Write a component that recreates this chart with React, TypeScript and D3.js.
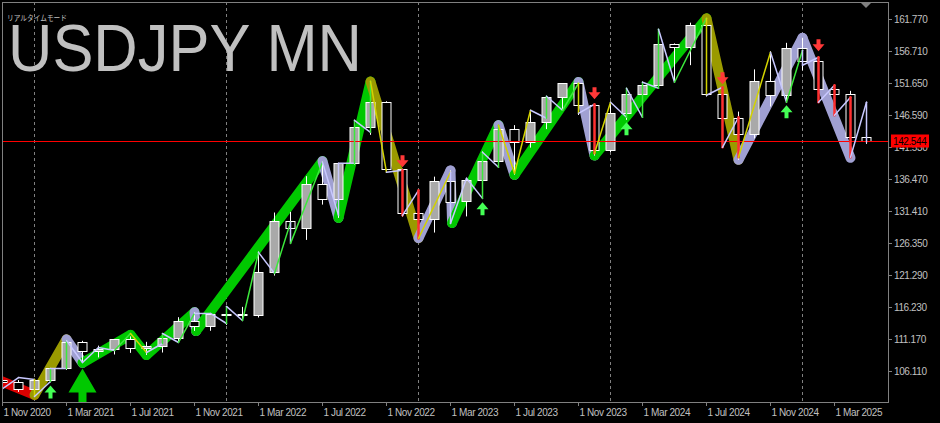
import React from 'react';
import * as d3 from 'd3';

// ---------- DATA ----------
const months = [
  'Nov 2020', 'Dec 2020', 'Jan 2021', 'Feb 2021', 'Mar 2021', 'Apr 2021', 'May 2021', 'Jun 2021', 'Jul 2021', 'Aug 2021', 'Sep 2021', 'Oct 2021',
  'Nov 2021', 'Dec 2021', 'Jan 2022', 'Feb 2022', 'Mar 2022', 'Apr 2022', 'May 2022', 'Jun 2022', 'Jul 2022', 'Aug 2022', 'Sep 2022', 'Oct 2022',
  'Nov 2022', 'Dec 2022', 'Jan 2023', 'Feb 2023', 'Mar 2023', 'Apr 2023', 'May 2023', 'Jun 2023', 'Jul 2023', 'Aug 2023', 'Sep 2023', 'Oct 2023',
  'Nov 2023', 'Dec 2023', 'Jan 2024', 'Feb 2024', 'Mar 2024', 'Apr 2024', 'May 2024', 'Jun 2024', 'Jul 2024', 'Aug 2024', 'Sep 2024', 'Oct 2024',
  'Nov 2024', 'Dec 2024', 'Jan 2025', 'Feb 2025', 'Mar 2025', 'Apr 2025', 'May 2025',
];
const opens = [
  104.66, 104.30, 103.22, 104.68, 106.58, 110.72, 109.30, 109.58, 111.10, 109.72, 110.02, 111.30,
  113.96, 113.16, 115.08, 115.12, 115.00, 121.70, 129.82, 128.68, 135.72, 133.26, 138.94, 144.74,
  148.71, 138.06, 131.10, 130.09, 136.20, 133.00, 136.30, 139.33, 144.31, 142.28, 145.54, 149.36,
  151.68, 148.20, 141.03, 146.91, 149.98, 151.35, 157.80, 157.31, 160.88, 149.98, 146.16, 143.63,
  152.03, 149.77, 157.20, 155.18, 150.63, 149.94, 143.07,
];
const highs = [
  105.68, 104.75, 104.94, 106.69, 110.97, 110.96, 110.20, 111.11, 111.66, 110.80, 112.08, 114.70,
  115.52, 115.20, 116.35, 116.33, 125.10, 131.25, 131.35, 137.00, 139.39, 139.08, 145.90, 151.95,
  148.84, 138.18, 134.78, 136.92, 137.91, 136.56, 140.93, 145.07, 145.07, 147.38, 149.71, 151.72,
  151.91, 148.32, 148.81, 150.88, 151.97, 160.21, 157.99, 161.27, 161.95, 150.89, 147.21, 153.88,
  156.75, 158.08, 158.87, 155.89, 151.30, 150.49, 143.50,
];
const lows = [
  103.18, 102.88, 102.59, 104.41, 106.35, 107.48, 108.34, 108.80, 109.06, 108.72, 109.11, 110.82,
  112.53, 112.55, 113.47, 114.15, 114.65, 121.28, 126.36, 126.92, 132.50, 130.40, 138.85, 143.53,
  137.50, 130.58, 127.23, 128.08, 129.64, 130.63, 133.50, 138.43, 137.24, 141.51, 144.44, 147.31,
  146.67, 140.25, 140.81, 145.90, 146.48, 150.81, 151.86, 154.55, 149.58, 141.68, 139.58, 142.97,
  148.01, 148.65, 153.72, 148.57, 146.54, 139.89, 142.10,
];
const closes = [
  104.30, 103.25, 104.68, 106.58, 110.72, 109.30, 109.58, 111.10, 109.72, 110.02, 111.30, 113.96,
  113.16, 115.08, 115.12, 115.00, 121.70, 129.82, 128.68, 135.72, 133.26, 138.94, 144.74, 148.71,
  138.06, 131.10, 130.09, 136.20, 132.83, 136.30, 139.33, 144.31, 142.28, 145.54, 149.36, 151.68,
  148.20, 141.03, 146.91, 149.98, 151.35, 157.80, 157.31, 160.88, 149.98, 146.16, 143.63, 152.03,
  149.77, 157.20, 155.18, 150.63, 149.94, 143.07, 142.544,
];

const xTickIdx = [0, 4, 8, 12, 16, 20, 24, 28, 32, 36, 40, 44, 48, 52];
const xTickLabels = [
  '1 Nov 2020', '1 Mar 2021', '1 Jul 2021', '1 Nov 2021', '1 Mar 2022', '1 Jul 2022', '1 Nov 2022',
  '1 Mar 2023', '1 Jul 2023', '1 Nov 2023', '1 Mar 2024', '1 Jul 2024', '1 Nov 2024', '1 Mar 2025',
];
const yearGridIdx = [2, 14, 26, 38, 50];
const yTicks = [161.77, 156.71, 151.65, 146.59, 141.53, 136.47, 131.41, 126.35, 121.29, 116.23, 111.17, 106.11];
const currentPrice = 142.544;

// main zigzag ribbon: bar index, price, segment colour key
const ribbonIdx = [-0.2, 2, 4, 5, 8, 9, 12, 12.1, 20, 21, 23, 26, 28, 28.1, 31, 32, 36, 37, 44, 46, 50, 53];
const ribbonPrice = [104.7, 102.4, 111.2, 107.48, 111.9, 108.7, 115.5, 112.5, 139.39, 130.4, 151.95, 127.2, 137.9, 129.6, 145.07, 137.2, 151.9, 140.25, 161.95, 139.58, 158.87, 139.9];
const ribbonColor = ['', 'R', 'O', 'L', 'G', 'G', 'G', 'L', 'G', 'L', 'G', 'O', 'L', 'L', 'G', 'L', 'G', 'L', 'G', 'O', 'L', 'L'];

// thin zigzag line: [bar index, price, colour of segment arriving here]
const thinPath: [number, number, string][] = [
  [-0.16, 103.10, ''], [1, 105.15, 'L'], [2, 104.84, 'L'], [2, 102.15, 'Y'], [3, 104.52, 'L'],
  [3, 106.58, 'G'], [4, 106.58, 'L'], [4, 111.01, 'G'], [5, 107.53, 'L'], [6, 109.91, 'L'],
  [7, 109.43, 'L'], [8, 112.12, 'G'], [9, 109.11, 'Y'], [10, 110.54, 'L'], [10, 112.12, 'G'],
  [11, 110.70, 'L'], [12, 115.29, 'G'], [13, 115.29, 'L'], [14, 113.70, 'L'], [14, 116.40, 'G'],
  [15, 114.18, 'L'], [16, 124.94, 'G'], [17, 121.62, 'L'], [18, 129.69, 'G'], [18, 126.37, 'L'],
  [20, 139.19, 'G'], [21, 130.80, 'L'], [21, 139.03, 'L'], [22, 139.03, 'L'], [22, 145.83, 'G'],
  [23, 143.93, 'L'], [23, 152.0, 'G'], [24, 137.61, 'Y'], [25, 137.92, 'L'], [25, 130.80, 'R'],
  [26, 134.76, 'L'], [26, 127.16, 'R'], [28, 137.61, 'Y'], [28, 129.53, 'L'], [29, 136.66, 'L'],
  [30, 133.49, 'L'], [30, 140.77, 'G'], [31, 138.40, 'L'], [31, 145.04, 'G'], [32, 137.45, 'Y'],
  [33, 147.42, 'Y'], [34, 146.15, 'L'], [34, 149.63, 'G'], [35, 147.42, 'L'], [36, 151.69, 'G'],
  [36, 146.94, 'Y'], [37, 148.37, 'L'], [37, 140.61, 'R'], [38, 148.68, 'Y'], [39, 146.31, 'L'],
  [39, 150.90, 'G'], [40, 146.31, 'L'], [40, 151.85, 'G'], [41, 150.90, 'L'], [41, 160.24, 'G'],
  [42, 151.85, 'L'], [44, 161.98, 'G'], [44, 149.79, 'Y'], [45, 151.06, 'L'], [45, 141.56, 'R'],
  [46, 146.31, 'L'], [46, 139.98, 'R'], [48, 156.59, 'Y'], [49, 148.68, 'L'], [50, 156.91, 'G'],
  [50, 154.54, 'L'], [51, 155.80, 'L'], [51, 148.68, 'R'], [52, 151.37, 'L'], [52, 146.63, 'R'],
  [53, 149.47, 'L'], [53, 139.98, 'R'], [54, 148.68, 'L'], [54, 142.35, 'L'],
];

// signal arrows
const upArrowIdx = [3, 30, 39, 49];
const upArrowPrice = [101.84, 130.80, 143.46, 146.15]; // bottom of arrow
const downArrowIdx = [25, 37, 45, 51];
const downArrowPrice = [140.3, 151.06, 153.43, 158.65]; // top of arrow
const bigArrowIdx = 5;
const bigArrowPrice = 106.58; // tip

// ---------- STYLE ----------
const ribbonColors: Record<string, string> = { R: '#dc0000', O: '#9a9a00', L: '#a0a0d2', G: '#00c800' };
const thinColors: Record<string, string> = { L: '#c8c8ff', G: '#3ce83c', Y: '#d2d200', R: '#ff3030' };
const AXIS = '#808080';
const TEXT = '#c0c0c0';
const FONT = "'Liberation Sans', Arial, sans-serif";

export default function App() {
  const x = d3.scaleLinear().domain([0, 54]).range([2.5, 866.5]);
  const y = d3.scaleLinear().domain([106.11, 161.77]).range([371.5, 19.5]);
  const snap = (v: number) => Math.round(v - 0.5) + 0.5;

  const ribbonSegs = ribbonIdx.slice(1).map((_, k) => ({
    x1: x(ribbonIdx[k]), y1: y(ribbonPrice[k]), x2: x(ribbonIdx[k + 1]), y2: y(ribbonPrice[k + 1]),
    c: ribbonColors[ribbonColor[k + 1]],
  }));

  const thinSegs = thinPath.slice(1).map((p, k) => ({
    x1: x(thinPath[k][0]), y1: y(thinPath[k][1]), x2: x(p[0]), y2: y(p[1]), key: p[2],
  }));

  const upArrow = (cx: number, bottom: number) => {
    const top = bottom - 13;
    return [[cx, top], [cx + 6, top + 7], [cx + 2, top + 7], [cx + 2, bottom], [cx - 2, bottom], [cx - 2, top + 7], [cx - 6, top + 7]]
      .map((p) => p.join(',')).join(' ');
  };
  const downArrow = (cx: number, top: number) => {
    const bottom = top + 12;
    return [[cx - 2, top], [cx + 2, top], [cx + 2, top + 5], [cx + 6, top + 5], [cx, bottom], [cx - 6, top + 5], [cx - 2, top + 5]]
      .map((p) => p.join(',')).join(' ');
  };
  const bigArrow = (cx: number, top: number) => {
    const hh = 24;
    return [[cx, top], [cx + 14, top + hh], [cx + 4, top + hh], [cx + 4, top + 40], [cx - 4, top + 40], [cx - 4, top + hh], [cx - 14, top + hh]]
      .map((p) => p.join(',')).join(' ');
  };

  const yCur = snap(y(currentPrice));

  return (
    <svg width={940} height={423} style={{ position: 'fixed', left: 0, top: 0, display: 'block' }} fontFamily={FONT}>
      <defs>
        <clipPath id="plotClip">
          <rect x={2} y={2} width={886} height={400} />
        </clipPath>
      </defs>
      <rect x={0} y={0} width={940} height={423} fill="#000" />

      <g clipPath="url(#plotClip)">
        {yearGridIdx.map((i) => (
          <line key={'g' + i} x1={x(i)} x2={x(i)} y1={2} y2={402} stroke={AXIS} strokeDasharray="3,3" />
        ))}

        <text x={8} y={71} fontSize={66} fill={TEXT} textLength={354} lengthAdjust="spacingAndGlyphs">USDJPY MN</text>
        <text x={7} y={20.5} fontSize={7.5} fill={TEXT} fontFamily="'Noto Sans CJK JP', sans-serif" textLength={60} lengthAdjust="spacingAndGlyphs">リアルタイムモード</text>

        {ribbonSegs.map((s, k) => (
          <line key={'r' + k} x1={s.x1} y1={s.y1} x2={s.x2} y2={s.y2} stroke={s.c} strokeWidth={10} strokeLinecap="round" />
        ))}

        {months.map((m, i) => {
          const cx = x(i);
          const o = opens[i], c = closes[i];
          const yTop = snap(y(Math.max(o, c)));
          const yBot = snap(y(Math.min(o, c)));
          const bull = c > o;
          return (
            <g key={m}>
              <line x1={cx} x2={cx} y1={y(highs[i])} y2={y(lows[i])} stroke="#fff" strokeWidth={1} />
              <rect x={cx - 4.5} y={yTop} width={9} height={Math.max(1, yBot - yTop)} fill={bull ? '#a9a9a9' : '#000'} stroke="#fff" strokeWidth={1} />
            </g>
          );
        })}

        <line x1={2} x2={888} y1={yCur} y2={yCur} stroke="#ff0000" strokeWidth={1} />

        {thinSegs.map((s, k) => (
          <line key={'t' + k} x1={s.x1} y1={s.y1} x2={s.x2} y2={s.y2} stroke={thinColors[s.key]}
            strokeWidth={s.key === 'R' ? 2.5 : 1.5} strokeLinecap="round" />
        ))}

        {upArrowIdx.map((i, k) => (
          <polygon key={'u' + k} points={upArrow(x(i), y(upArrowPrice[k]))} fill="#44ff55" />
        ))}
        {downArrowIdx.map((i, k) => (
          <polygon key={'d' + k} points={downArrow(x(i), y(downArrowPrice[k]))} fill="#ff3838" />
        ))}
        <polygon points={bigArrow(x(bigArrowIdx), y(bigArrowPrice))} fill="#00c800" />
      </g>

      <rect x={2.5} y={2.5} width={886} height={400} fill="none" stroke={AXIS} strokeWidth={1} />
      <polygon points="861,3 871,3 866,8" fill={AXIS} />

      {yTicks.map((v) => (
        <g key={'y' + v}>
          <line x1={888} x2={892} y1={y(v)} y2={y(v)} stroke={AXIS} />
          <text x={894} y={y(v)} dy="0.35em" fontSize={10} fill={TEXT} letterSpacing={-0.4}>{v.toFixed(3)}</text>
        </g>
      ))}
      <rect x={891} y={yCur - 7} width={38} height={13} fill="#ff0000" />
      <text x={893} y={yCur} dy="0.35em" fontSize={10} fill="#000" letterSpacing={-0.4}>{currentPrice.toFixed(3)}</text>

      {xTickIdx.map((i, k) => (
        <g key={'x' + i}>
          <line x1={x(i)} x2={x(i)} y1={402} y2={406} stroke={AXIS} />
          <text x={x(i) + 1} y={416} fontSize={10} fill={TEXT} letterSpacing={-0.4}>{xTickLabels[k]}</text>
        </g>
      ))}
    </svg>
  );
}
